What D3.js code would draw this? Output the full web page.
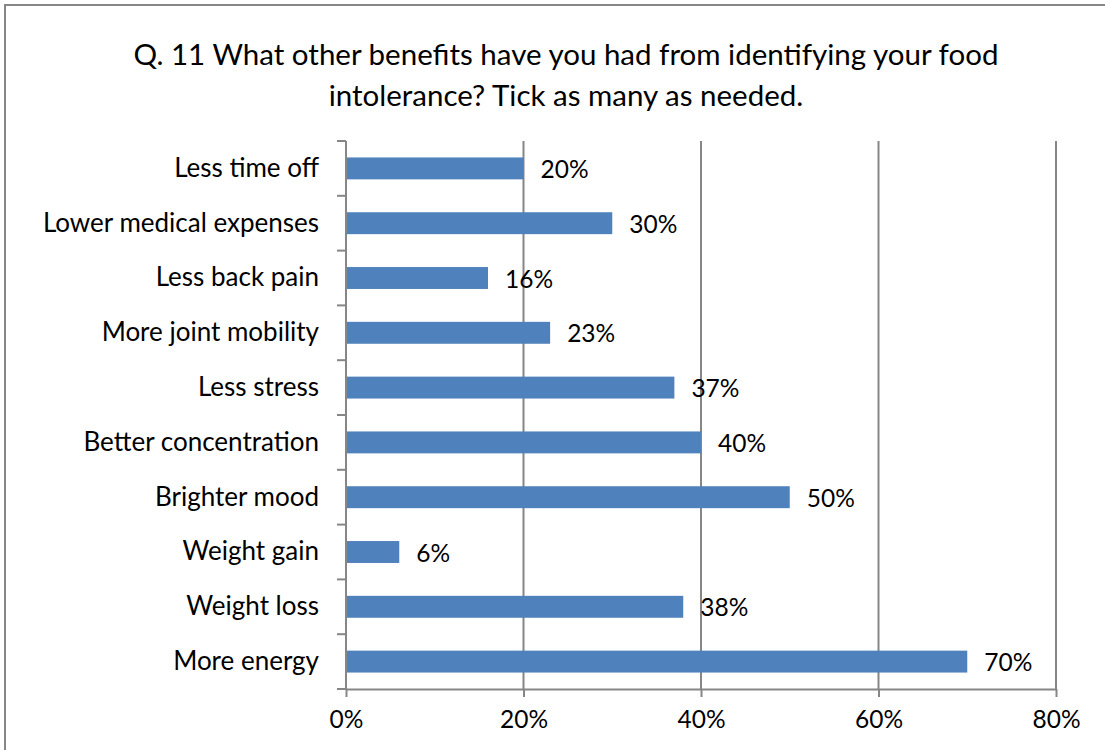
<!DOCTYPE html>
<html>
<head>
<meta charset="utf-8">
<script src="https://cdn.jsdelivr.net/npm/d3@7"></script>
<style>
  body { margin: 0; background: #fff; }
  svg text { font-family: Lato, "Open Sans", sans-serif; fill: #000; }
</style>
</head>
<body>
<svg id="chart"></svg>
<script>
const categories = ['Less time off', 'Lower medical expenses', 'Less back pain', 'More joint mobility',
    'Less stress', 'Better concentration', 'Brighter mood', 'Weight gain', 'Weight loss', 'More energy']
const values = [20, 30, 16, 23, 37, 40, 50, 6, 38, 70]
const xTicks = [0, 20, 40, 60, 80]
const titleLines = ['Q. 11 What other benefits have you had from identifying your food',
    'intolerance? Tick as many as needed.']

const W = 1105, H = 750
const plot = {left: 346, right: 1056, top: 141, bottom: 689}

let svg = d3.select('#chart').attr('width', W).attr('height', H)

// outer chart frame
svg.append('rect')
    .attr('x', 5).attr('y', 5)
    .attr('width', 1122).attr('height', 760)
    .attr('fill', 'none')
    .attr('stroke', '#868686')
    .attr('stroke-width', 2)

svg.selectAll('text.title')
    .data(titleLines)
    .enter()
    .append('text')
    .attr('class', 'title')
    .attr('x', 566)
    .attr('y', (d, i) => 65 + 41 * i)
    .attr('text-anchor', 'middle')
    .attr('font-size', 29.5)
    .text(d => d)

let x = d3.scaleLinear().domain([0, 80]).range([plot.left, plot.right])
let y = d3.scaleBand().domain(categories).range([plot.top, plot.bottom]).paddingInner(0.6).paddingOuter(0.3)

// vertical gridlines
svg.selectAll('line.grid')
    .data(xTicks.slice(1))
    .enter()
    .append('line')
    .attr('class', 'grid')
    .attr('x1', d => x(d)).attr('x2', d => x(d))
    .attr('y1', plot.top).attr('y2', plot.bottom)
    .attr('stroke', '#868686')
    .attr('stroke-width', 2)

svg.selectAll('rect.bar')
    .data(values)
    .enter()
    .append('rect')
    .attr('class', 'bar')
    .attr('x', x(0))
    .attr('y', (d, i) => y(categories[i]))
    .attr('width', d => x(d) - x(0))
    .attr('height', y.bandwidth())
    .attr('fill', '#4f81bd')

svg.selectAll('text.value')
    .data(values)
    .enter()
    .append('text')
    .attr('class', 'value')
    .attr('x', d => x(d) + 17)
    .attr('y', (d, i) => y(categories[i]) + y.bandwidth() / 2)
    .attr('dominant-baseline', 'central')
    .attr('font-size', 24.5)
    .text(d => d + '%')

// x axis
let xAxis = svg.append('g')
    .attr('transform', `translate(0,${plot.bottom})`)
    .call(d3.axisBottom(x).tickValues(xTicks).tickSize(8).tickSizeOuter(0).tickPadding(14).tickFormat(d => d + '%'))
xAxis.selectAll('text').attr('font-size', 24.5).attr('font-family', null)
xAxis.selectAll('line, path').attr('stroke', '#868686').attr('stroke-width', 2)

// y axis: labels from the band scale, ticks on the band boundaries
let yAxis = svg.append('g')
    .attr('transform', `translate(${plot.left},0)`)
    .call(d3.axisLeft(y).tickSize(0).tickPadding(27))
yAxis.select('path').remove()
yAxis.selectAll('text').attr('font-size', 26).attr('font-family', null)

let step = y.step()
let bounds = d3.range(categories.length + 1).map(i => plot.top + i * step)
svg.append('line')
    .attr('x1', plot.left).attr('x2', plot.left)
    .attr('y1', plot.top).attr('y2', plot.bottom)
    .attr('stroke', '#868686').attr('stroke-width', 2)
svg.selectAll('line.ytick')
    .data(bounds)
    .enter()
    .append('line')
    .attr('class', 'ytick')
    .attr('x1', plot.left - 9).attr('x2', plot.left)
    .attr('y1', d => d).attr('y2', d => d)
    .attr('stroke', '#868686').attr('stroke-width', 2)
</script>
</body>
</html>
